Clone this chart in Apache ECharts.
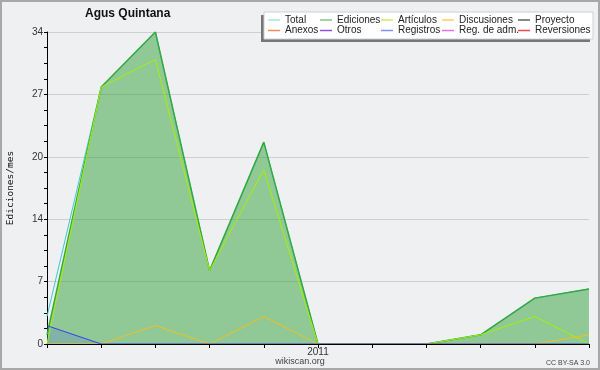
<!DOCTYPE html>
<html>
<head>
<meta charset="utf-8">
<script src="https://cdn.jsdelivr.net/npm/echarts@6/dist/echarts.min.js"></script>
<style>
html, body { margin: 0; padding: 0; background: #eff0f1; }
#chart { width: 600px; height: 370px; }
</style>
</head>
<body>
<div id="chart"></div>
<script>
// meses (ago 2010 - jun 2011)
var months = ['2010-08', '2010-09', '2010-10', '2010-11', '2010-12', '2011-01', '2011-02', '2011-03', '2011-04', '2011-05', '2011-06'];
var yTicks = [0, 7, 14, 20, 27, 34];

var total       = [3, 28, 34, 8, 22, 0, 0, 0, 1, 5, 6];
var ediciones   = [1, 28, 34, 8, 22, 0, 0, 0, 1, 5, 6];
var articulos   = [0, 28, 31, 8, 19, 0, 0, 0, 1, 3, 0];
var discusiones = [0, 0, 2, 0, 3, 0, 0, 0, 0, 0, 1];
var registros   = [2, 0, 0, 0, 0, 0, 0, 0, 0, 0, 0];
var proyecto = [], anexos = [], otros = [], regAdm = [], reversiones = [];

var chart = echarts.init(document.getElementById('chart'));

function lineSerie(name, data, color, width, area){
    var s = {
        name: name,
        type: 'line',
        data: data,
        symbol: 'none',
        animation: false,
        color: color,
        lineStyle: { color: color, width: width }
    };
    if(area){
        s.areaStyle = { color: area, opacity: 1 };
    }
    return s;
}

//leyenda: 5 columnas de 2 filas
function legendCol(left, names, colors){
    return {
        orient: 'vertical',
        left: left,
        top: 15,
        padding: 0,
        itemGap: 0.5,
        itemWidth: 12,
        itemHeight: 1.5,
        icon: 'rect',
        selectedMode: false,
        textStyle: { fontFamily: 'Liberation Sans', fontSize: 10, color: '#222', lineHeight: 10 },
        data: [
            { name: names[0], itemStyle: { color: colors[0] } },
            { name: names[1], itemStyle: { color: colors[1] } }
        ]
    };
}

var option = {
    backgroundColor: '#eff0f1',
    animation: false,
    title: {
        text: 'Agus Quintana',
        left: 85,
        top: 8,
        padding: 0,
        textStyle: { fontFamily: 'Liberation Sans', fontWeight: 'bold', fontSize: 12, color: '#111' }
    },
    legend: [
        legendCol(268, ['Total', 'Anexos'], ['#a6e6e2', '#f48a5a']),
        legendCol(320, ['Ediciones', 'Otros'], ['#7cc98a', '#9050e0']),
        legendCol(381, ['Artículos', 'Registros'], ['#c8f060', '#8090f0']),
        legendCol(442, ['Discusiones', 'Reg. de adm.'], ['#f6d050', '#e070e8']),
        legendCol(518, ['Proyecto', 'Reversiones'], ['#606060', '#f04848'])
    ],
    grid: { left: 47, right: 11, top: 32, bottom: 26, containLabel: false, outerBoundsMode: 'none' },
    xAxis: {
        type: 'category',
        data: months,
        boundaryGap: false,
        z: 5,
        axisLine: { lineStyle: { color: '#000', width: 1 } },
        axisTick: { show: true, interval: 0, length: 4, lineStyle: { color: '#000' } },
        axisLabel: {
            interval: 0,
            margin: 3,
            fontFamily: 'Liberation Sans',
            fontSize: 10,
            color: '#333',
            formatter: function(v){ return v == '2011-01' ? '2011' : ''; }
        },
        splitLine: { show: false }
    },
    yAxis: {
        type: 'value',
        min: 0,
        max: 34,
        interval: 6.8,
        name: 'Ediciones/mes',
        nameLocation: 'middle',
        nameRotate: 90,
        nameGap: 31,
        nameTextStyle: { fontFamily: 'DejaVu Sans Mono', fontSize: 9.5, color: '#111' },
        axisLine: { show: true, lineStyle: { color: '#000', width: 1 } },
        axisTick: { show: true, length: 3, lineStyle: { color: '#000' } },
        minorTick: { show: true, splitNumber: 4, length: 3, lineStyle: { color: '#000' } },
        axisLabel: {
            margin: 4,
            fontFamily: 'Liberation Sans',
            fontSize: 10,
            color: '#333',
            formatter: function(v){
                var r = Math.round(v);
                return yTicks.indexOf(r) >= 0 ? String(r) : '';
            }
        },
        splitLine: { show: true, lineStyle: { color: '#cfcfcf', width: 1 } }
    },
    graphic: [
        { type: 'rect', shape: { x: 1, y: 1, width: 598, height: 368 }, style: { fill: 'none', stroke: '#a8a8a8', lineWidth: 2 }, z: 0 },
        { type: 'rect', shape: { x: 261, y: 15, width: 329, height: 27 }, style: { fill: '#777' }, z: 1 },
        { type: 'rect', shape: { x: 264, y: 12, width: 329, height: 27 }, style: { fill: '#fff', stroke: '#d0d0d0', lineWidth: 1 }, z: 2 },
        { type: 'text', x: 300, y: 362, style: { text: 'wikiscan.org', fontFamily: 'Liberation Sans', fontSize: 9, fill: '#444', align: 'center', verticalAlign: 'middle' } },
        { type: 'text', x: 590, y: 363, style: { text: 'CC BY-SA 3.0', fontFamily: 'Liberation Sans', fontSize: 7, fill: '#444', align: 'right', verticalAlign: 'middle' } }
    ],
    series: [
        lineSerie('Total', total, '#3cc8d2', 1),
        lineSerie('Ediciones', ediciones, '#34a843', 1.5, 'rgba(50,160,60,0.5)'),
        lineSerie('Artículos', articulos, '#a6f000', 1),
        lineSerie('Discusiones', discusiones, '#f0c020', 1),
        lineSerie('Proyecto', proyecto, '#555555', 1),
        lineSerie('Anexos', anexos, '#f07030', 1),
        lineSerie('Otros', otros, '#7020d0', 1),
        lineSerie('Registros', registros, '#3040f0', 1, 'rgba(48,64,255,0.15)'),
        lineSerie('Reg. de adm.', regAdm, '#d030d8', 1),
        lineSerie('Reversiones', reversiones, '#f02020', 1)
    ]
};

chart.setOption(option);
</script>
</body>
</html>
